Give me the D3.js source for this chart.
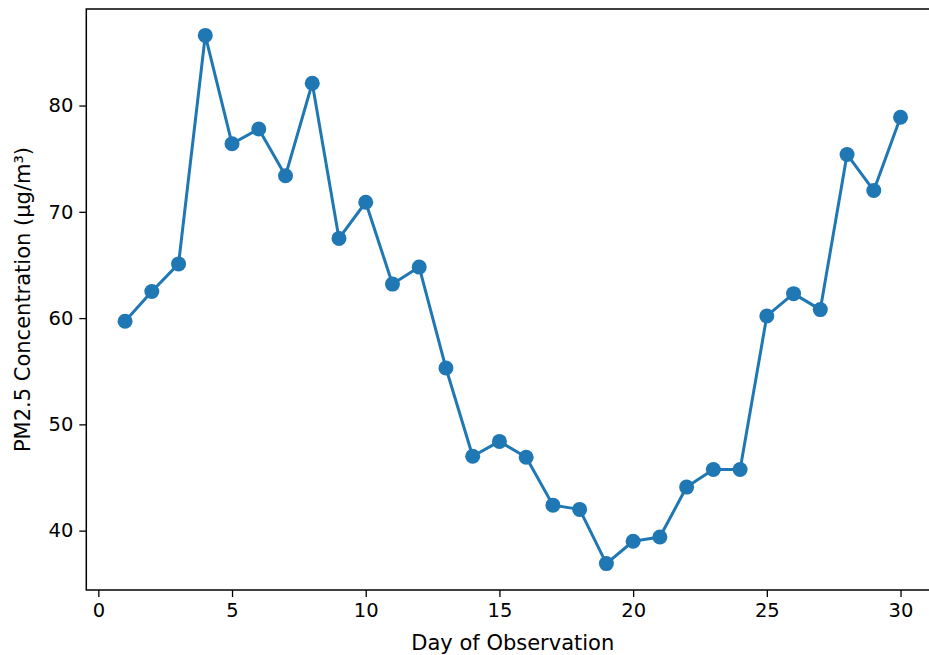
<!DOCTYPE html>
<html>
<head>
<meta charset="utf-8">
<script src="https://cdn.jsdelivr.net/npm/d3@7"></script>
<style>
  body { margin: 0; background: #fff; }
  svg { display: block; }
  .tick text { font-family: "DejaVu Sans", sans-serif; font-size: 19.5px; fill: #000; }
  .Label { font-family: "DejaVu Sans", sans-serif; font-size: 21px; fill: #000; }
</style>
</head>
<body>
<div class="visHolder"></div>
<script>
// ========================================
// Data
// ========================================
const days = [1, 2, 3, 4, 5, 6, 7, 8, 9, 10, 11, 12, 13, 14, 15,
              16, 17, 18, 19, 20, 21, 22, 23, 24, 25, 26, 27, 28, 29, 30];
const pm25 = [59.7, 62.5, 65.1, 86.6, 76.4, 77.8, 73.4, 82.1, 67.5, 70.9,
              63.2, 64.8, 55.3, 47.0, 48.4, 46.9, 42.4, 42.0, 36.9, 39.0,
              39.4, 44.1, 45.75, 45.75, 60.2, 62.3, 60.8, 75.4, 72.0, 78.9];
const xTicks = [0, 5, 10, 15, 20, 25, 30];
const yTicks = [40, 50, 60, 70, 80];

// ========================================
// Dimensions
// ========================================
const
  width = 929,
  height = 655,
  axLeft = 86.3,       // axes box
  axRight = 939.3,     // right side runs past the window, like the picture
  axTop = 9,
  axBottom = 590,
  lineColor = '#1f77b4',
  xLabel = 'Day of Observation',
  yLabel = 'PM2.5 Concentration (\u00b5g/m\u00b3)';

const data = days.map((d, i) => ({ day: d, value: pm25[i] }));

// matplotlib style 5% margins on each side
const pad = (lo, hi) => { const m = (hi - lo) * 0.05; return [lo - m, hi + m]; };

const xScale = d3.scaleLinear()
  .domain(pad(d3.min(days), d3.max(days)))
  .range([axLeft, axRight]);
const yScale = d3.scaleLinear()
  .domain(pad(d3.min(pm25), d3.max(pm25)))
  .range([axBottom, axTop]);

const svg = d3.select('.visHolder')
  .append('svg')
    .attr('width', width)
    .attr('height', height);

// --- X axis
const xAxis = svg.append('g')
  .attr('transform', 'translate(0,' + axBottom + ')')
  .call(d3.axisBottom(xScale).tickValues(xTicks).tickSize(7).tickPadding(6).tickSizeOuter(0));
xAxis.select('.domain').remove();
xAxis.selectAll('.tick line').attr('stroke', '#000').attr('stroke-width', 1.3);

// --- Y axis
const yAxis = svg.append('g')
  .attr('transform', 'translate(' + axLeft + ',0)')
  .call(d3.axisLeft(yScale).tickValues(yTicks).tickSize(7).tickPadding(6).tickSizeOuter(0));
yAxis.select('.domain').remove();
yAxis.selectAll('.tick line').attr('stroke', '#000').attr('stroke-width', 1.3);

// --- axes frame
svg.append('rect')
  .attr('x', axLeft)
  .attr('y', axTop)
  .attr('width', axRight - axLeft)
  .attr('height', axBottom - axTop)
  .attr('fill', 'none')
  .attr('stroke', '#000')
  .attr('stroke-width', 1.5);

// --- line and markers
const line = d3.line()
  .x(d => xScale(d.day))
  .y(d => yScale(d.value));

svg.append('path')
  .datum(data)
  .attr('d', line)
  .attr('fill', 'none')
  .attr('stroke', lineColor)
  .attr('stroke-width', 3)
  .attr('stroke-linejoin', 'round');

svg.selectAll('circle')
  .data(data)
  .enter()
  .append('circle')
    .attr('cx', d => xScale(d.day))
    .attr('cy', d => yScale(d.value))
    .attr('r', 7.5)
    .attr('fill', lineColor);

// --- axis labels
svg.append('text')
  .attr('class', 'Label')
  .attr('x', (axLeft + axRight) / 2)
  .attr('y', 650)
  .attr('text-anchor', 'middle')
  .text(xLabel);

svg.append('text')
  .attr('class', 'Label')
  .attr('transform', 'rotate(-90)')
  .attr('x', -(axTop + axBottom) / 2)
  .attr('y', 30)
  .attr('text-anchor', 'middle')
  .text(yLabel);
</script>
</body>
</html>
